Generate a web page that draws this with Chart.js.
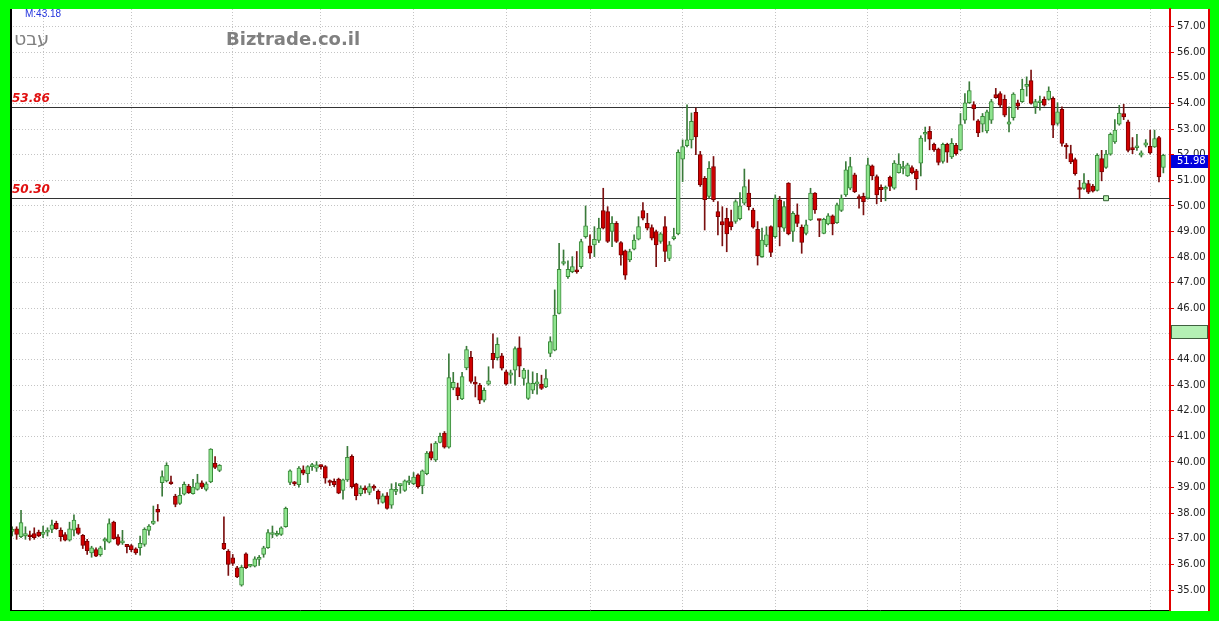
<!DOCTYPE html>
<html>
<head>
<meta charset="utf-8">
<script src="https://cdn.jsdelivr.net/npm/chart.js@4"></script>
<style>
  html, body { margin: 0; padding: 0; background: #00ff00; }
  #wrap { width: 1219px; height: 621px; }
</style>
</head>
<body>
<div id="wrap"><canvas id="chart" width="1219" height="621"></canvas></div>
<script>
// daily candles
const opens = [
  37.29,37.39,37.08,37.11,37.09,37.20,37.26,37.17,37.26,37.37,
  37.60,37.34,37.17,36.95,37.34,37.43,37.14,36.91,36.45,36.58,
  36.38,36.91,36.87,37.65,37.08,36.84,36.78,36.74,36.61,36.65,
  36.78,37.33,37.60,38.15,39.19,39.26,39.23,38.67,38.38,38.74,
  39.06,38.76,38.93,39.19,38.93,39.22,39.95,39.67,36.82,36.52,
  36.26,35.87,35.19,36.41,35.93,35.93,36.20,36.39,36.65,37.17,
  37.14,37.17,37.47,39.20,39.17,39.11,39.69,39.54,39.82,39.76,
  39.84,39.82,39.22,39.24,39.33,38.89,39.30,40.22,39.15,38.76,
  38.95,38.81,39.04,38.85,38.42,38.68,38.31,38.85,39.08,38.89,
  39.20,39.15,39.50,39.07,39.54,40.41,40.08,40.76,41.13,40.58,
  42.89,42.91,42.46,43.67,44.09,43.06,43.00,42.41,43.04,44.24,
  44.07,44.15,43.52,43.39,43.59,44.46,43.26,42.48,42.80,43.04,
  43.04,42.93,44.24,44.37,45.80,47.75,47.24,47.43,47.50,47.63,
  48.80,48.44,48.48,48.65,49.82,49.78,49.00,49.32,48.57,48.25,
  47.89,48.31,48.70,49.82,49.32,49.15,49.00,48.61,49.19,47.95,
  48.72,48.91,51.83,52.35,52.58,53.65,52.00,51.08,50.37,51.54,
  49.78,49.39,49.52,49.39,49.39,49.50,50.11,50.50,49.84,49.09,
  48.02,48.48,49.19,48.80,50.24,49.13,50.89,49.00,49.65,49.17,
  48.93,49.45,50.50,49.45,48.93,49.30,49.61,49.35,49.82,50.43,
  50.69,51.21,50.30,50.37,50.30,51.57,51.15,50.73,50.65,51.12,
  50.69,51.30,51.46,51.17,51.50,51.37,51.67,52.80,52.91,52.41,
  52.22,51.74,52.41,51.91,52.37,52.20,53.35,54.03,53.96,53.32,
  53.19,52.93,53.35,54.35,54.39,54.16,53.19,53.45,54.03,54.07,
  54.67,54.89,53.87,54.03,54.16,54.16,54.20,53.22,53.77,52.37,
  52.04,51.81,50.66,50.68,50.87,50.77,50.61,51.85,51.50,52.02,
  52.50,53.19,53.61,53.28,52.28,52.27,51.98,52.37,52.33,52.30,
  52.67,51.50
];
const highs = [
  37.47,37.47,38.11,37.47,37.30,37.43,37.34,37.50,37.43,37.73,
  37.69,37.43,37.24,37.65,37.94,37.56,37.17,36.98,36.71,36.65,
  36.71,37.04,37.78,37.69,37.17,37.33,36.78,36.78,36.65,37.11,
  37.43,37.56,38.28,38.34,39.65,39.97,39.45,38.74,39.00,39.22,
  39.13,39.32,39.52,39.26,39.22,40.52,40.21,39.90,37.86,36.58,
  36.39,35.93,35.96,36.45,36.00,36.30,36.35,36.71,37.36,37.50,
  37.30,37.47,38.24,39.69,39.24,39.82,39.85,39.86,39.95,40.02,
  39.89,39.86,39.30,39.34,39.37,39.33,40.61,40.28,39.17,39.07,
  39.07,39.15,39.11,38.91,38.76,38.81,39.15,39.20,39.15,39.30,
  39.45,39.59,39.54,39.69,40.41,40.71,40.80,41.13,41.19,44.22,
  43.50,43.08,43.50,44.52,44.32,43.33,43.07,42.90,43.72,45.00,
  44.85,44.24,43.59,43.59,44.50,44.89,43.66,43.59,43.52,43.46,
  43.39,43.61,44.89,46.72,48.54,48.28,47.86,48.02,48.22,48.70,
  50.00,48.87,49.19,49.52,50.69,49.97,49.58,49.39,48.61,48.28,
  48.31,48.87,49.58,50.13,49.71,49.26,49.06,48.96,49.58,48.61,
  49.13,52.19,52.58,53.95,53.63,53.82,52.13,51.15,51.73,51.93,
  50.17,49.97,49.91,49.84,50.24,50.52,51.44,51.02,49.91,49.39,
  49.13,49.19,49.22,50.43,50.37,50.17,50.91,49.78,50.08,49.26,
  49.45,50.69,50.52,49.48,49.52,49.70,49.65,50.11,50.43,51.73,
  51.90,51.28,50.43,50.50,51.87,51.60,51.21,50.82,50.78,51.17,
  51.77,52.04,51.74,51.67,51.57,51.43,52.74,53.08,53.10,52.45,
  52.26,52.45,52.45,52.63,52.44,53.61,54.39,54.85,54.07,53.37,
  53.61,53.74,54.16,54.59,54.46,54.33,53.87,54.42,54.13,54.95,
  55.04,55.30,54.16,54.29,54.26,54.65,54.26,54.03,53.87,52.44,
  52.37,51.87,51.00,51.26,51.00,50.84,52.04,52.17,52.17,52.85,
  53.37,53.93,53.97,53.35,52.67,52.80,52.15,52.59,52.96,52.96,
  52.72,52.02
];
const lows = [
  37.11,36.98,37.04,36.98,36.95,36.98,37.08,37.04,37.11,37.24,
  37.37,36.91,36.92,36.91,37.11,37.17,36.62,36.39,36.28,36.30,
  36.32,36.58,36.84,36.98,36.74,36.78,36.45,36.50,36.39,36.36,
  36.71,37.14,37.56,37.69,38.67,39.22,39.12,38.25,38.34,38.71,
  38.77,38.74,38.90,38.96,38.87,39.19,39.74,39.62,36.58,35.57,
  35.96,35.48,35.15,35.83,35.90,35.90,35.96,36.28,36.62,37.04,
  37.10,37.13,37.45,39.11,39.08,39.02,39.50,39.20,39.67,39.63,
  39.72,39.17,39.08,39.04,38.76,38.55,39.24,38.98,38.52,38.68,
  38.78,38.72,38.89,38.36,38.39,38.16,38.19,38.72,38.78,38.85,
  39.11,39.11,38.98,38.76,39.50,40.08,40.02,40.74,40.54,40.54,
  42.82,42.43,42.43,43.60,43.08,42.54,42.28,42.35,43.00,43.66,
  43.98,43.59,43.00,43.07,43.00,43.33,43.00,42.44,42.67,42.65,
  42.83,42.90,44.11,44.34,45.78,47.69,47.17,47.39,47.37,47.56,
  48.74,47.95,48.02,48.57,49.10,48.57,48.41,48.57,47.69,47.13,
  47.82,48.28,48.67,49.45,49.06,48.67,47.63,48.54,47.82,47.86,
  48.67,48.87,50.95,52.30,52.26,52.00,50.76,49.06,50.30,50.17,
  48.87,48.44,48.21,49.06,49.32,49.45,50.04,49.84,49.13,47.69,
  47.99,48.41,48.02,48.74,48.44,49.00,48.87,48.61,49.19,48.15,
  48.87,49.43,49.71,48.80,48.91,49.26,48.87,49.32,49.78,50.37,
  50.63,50.52,49.91,49.65,50.26,51.02,50.08,50.17,50.20,50.60,
  50.65,51.28,51.25,51.15,51.25,50.63,51.17,52.52,52.19,52.13,
  51.60,51.67,51.70,51.85,51.98,52.15,53.22,54.00,53.35,52.70,
  52.89,52.85,53.22,54.20,53.87,53.48,52.89,53.35,53.77,54.04,
  54.29,53.97,53.61,53.74,53.90,54.13,52.67,53.15,52.33,51.85,
  51.65,51.20,50.28,50.64,50.48,50.54,50.58,50.98,51.46,51.98,
  52.44,53.15,53.37,52.11,52.04,52.17,51.91,52.30,52.02,52.28,
  50.94,51.29
];
const closes = [
  37.37,37.17,37.63,37.20,37.08,37.04,37.11,37.26,37.34,37.55,
  37.40,37.08,36.95,37.39,37.73,37.21,36.74,36.54,36.65,36.32,
  36.65,36.96,37.59,37.01,36.78,36.91,36.69,36.58,36.45,36.82,
  37.37,37.50,37.69,38.04,39.43,39.87,39.15,38.34,38.70,39.13,
  38.80,39.02,39.19,39.02,39.15,40.50,39.79,39.87,36.61,36.00,
  36.04,35.51,35.89,35.87,35.95,36.22,36.28,36.65,37.24,37.20,
  37.17,37.43,38.19,39.65,39.15,39.76,39.56,39.82,39.85,39.89,
  39.82,39.37,39.20,39.11,38.78,39.30,40.18,39.04,38.68,38.98,
  38.91,39.04,38.98,38.55,38.68,38.19,38.94,38.87,39.08,39.26,
  39.22,39.41,39.04,39.65,40.35,40.15,40.74,41.00,40.58,43.30,
  43.11,42.59,43.34,44.39,43.15,43.04,42.41,42.80,43.17,44.00,
  44.59,43.66,43.04,43.48,44.43,43.74,43.59,43.09,43.07,43.13,
  42.87,43.26,44.70,45.74,47.52,47.78,47.52,47.63,47.43,48.61,
  49.22,48.15,48.70,49.13,49.13,48.61,49.32,48.61,48.08,47.30,
  48.22,48.67,49.19,49.52,49.13,48.74,48.48,48.91,48.22,48.48,
  48.74,52.09,52.32,52.58,53.30,52.69,50.82,50.24,51.47,50.24,
  49.58,49.26,48.91,49.19,50.17,50.00,50.76,49.97,49.17,48.05,
  48.67,48.87,48.18,50.30,49.17,49.97,48.91,49.71,49.32,48.57,
  49.26,50.50,49.84,49.43,49.48,49.61,49.30,50.04,50.30,51.41,
  51.54,50.56,50.29,50.17,51.60,51.17,50.43,50.63,50.73,50.76,
  51.67,51.63,51.48,51.60,51.30,51.06,52.65,52.84,52.61,52.19,
  51.70,52.41,52.10,52.44,52.04,53.18,54.03,54.50,53.80,52.85,
  53.50,53.67,54.07,54.23,53.93,53.54,53.28,54.37,53.90,54.55,
  54.69,54.00,54.07,54.05,53.93,54.48,53.15,53.67,52.44,52.30,
  51.72,51.26,50.64,50.90,50.54,50.58,51.98,51.33,52.02,52.80,
  52.96,53.63,53.48,52.17,52.20,52.29,52.07,52.46,52.07,52.63,
  51.13,51.98
];

const yTicks = [35,36,37,38,39,40,41,42,43,44,45,46,47,48,49,50,51,52,53,54,55,56,57];
const monthStarts = [7, 27, 50, 70, 91, 112, 131, 152, 173, 194, 215, 237, 258];
const levels = [53.86, 50.30];
const lowMarker = { idx: 248, value: 50.30 };
const avgBand = [44.85, 45.35];
const lastPrice = 51.98;
const avgText = 'M:43.18';
const symbolText = 'טבע';
const siteText = 'Biztrade.co.il';

// one extra empty slot at the right edge
const labels = opens.map((_, i) => String(i)).concat(['']);
const isUp = opens.map((o, i) => closes[i] >= o);

const frame = {
  id: 'frame',
  beforeDraw(chart) {
    const c = chart.ctx;
    c.save();
    c.fillStyle = '#00ff00';
    c.fillRect(0, 0, chart.width, chart.height);
    c.fillStyle = '#ffffff';
    c.fillRect(10, 9, 1199, 602);
    c.restore();
  },
  beforeDatasetsDraw(chart) {
    const { ctx: c, chartArea: a, scales: { y } } = chart;
    c.save();
    // support / resistance
    c.strokeStyle = '#333';
    c.lineWidth = 1;
    levels.forEach(v => {
      const py = Math.round(y.getPixelForValue(v)) + 0.5;
      c.beginPath();
      c.moveTo(a.left, py);
      c.lineTo(a.right, py);
      c.stroke();
    });
    c.fillStyle = '#e01010';
    c.font = 'italic bold 12px "DejaVu Sans"';
    c.textBaseline = 'alphabetic';
    levels.forEach(v => c.fillText(v.toFixed(2), 12, y.getPixelForValue(v) - 5));

    c.fillStyle = '#2233dd';
    c.font = '10px "Liberation Sans"';
    c.fillText(avgText, 25, 17);

    c.fillStyle = '#808080';
    c.font = 'bold 18px "DejaVu Sans"';
    c.fillText(siteText, 226, 45);
    // the symbol is shown in visual (left-to-right) letter order
    c.font = '19px "DejaVu Sans"';
    c.fillText('\u202D' + symbolText + '\u202C', 14, 45);
    c.restore();
  },
  afterDraw(chart) {
    const { ctx: c, chartArea: a, scales: { y } } = chart;
    c.save();
    // borders
    c.fillStyle = '#000';
    c.fillRect(10, a.top, 2, a.bottom - a.top + 1);
    c.fillStyle = '#e00000';
    c.fillRect(1208, a.top, 2, a.bottom - a.top + 1);

    // average band on the axis
    const b1 = Math.round(y.getPixelForValue(avgBand[1]));
    const b2 = Math.round(y.getPixelForValue(avgBand[0]));
    c.fillStyle = '#b4f0b4';
    c.fillRect(a.right + 1, b1, 1208 - a.right - 1, b2 - b1);
    c.strokeStyle = '#406040';
    c.lineWidth = 1;
    c.strokeRect(a.right + 1.5, b1 + 0.5, 1208 - a.right - 2, b2 - b1);

    // last price tag
    const ty = Math.round(y.getPixelForValue(lastPrice));
    c.fillStyle = '#0000dd';
    c.fillRect(a.right + 1, ty, 37, 13);
    c.fillStyle = '#ffffff';
    c.font = '10px "DejaVu Sans"';
    c.textBaseline = 'middle';
    c.fillText(lastPrice.toFixed(2), a.right + 7, ty + 6.5);
    c.restore();
  }
};

new Chart(document.getElementById('chart'), {
  data: {
    labels: labels,
    datasets: [
      {
        type: 'line',
        data: [{ x: String(lowMarker.idx), y: lowMarker.value }],
        showLine: false,
        pointStyle: 'rect',
        pointRadius: 3.5,
        backgroundColor: '#b8f0b0',
        borderColor: '#2f5f2f',
        borderWidth: 1,
        order: 0
      },
      {
        type: 'bar',
        data: opens.map((o, i) => [o, closes[i]]),
        backgroundColor: isUp.map(u => (u ? '#8fe48f' : '#d00000')),
        borderColor: isUp.map(u => (u ? '#3a8a3a' : '#7a0000')),
        borderWidth: 1,
        borderSkipped: false,
        barThickness: 4,
        minBarLength: 2,
        grouped: false,
        order: 1
      },
      {
        type: 'bar',
        data: lows.map((l, i) => [l, highs[i]]),
        backgroundColor: isUp.map(u => (u ? '#3a7a3a' : '#7a1010')),
        barThickness: 1,
        grouped: false,
        order: 2
      }
    ]
  },
  options: {
    responsive: false,
    animation: false,
    devicePixelRatio: 1,
    layout: { padding: { left: 10, top: 9, right: 10, bottom: 11 } },
    plugins: { legend: { display: false }, tooltip: { enabled: false } },
    scales: {
      x: {
        type: 'category',
        offset: true,
        ticks: { display: false, autoSkip: false },
        grid: {
          offset: false,
          drawTicks: false,
          color: ctx => (monthStarts.includes(ctx.index) ? '#c4c4c4' : 'rgba(0,0,0,0)')
        },
        border: { color: '#000', width: 1, dash: [1, 2] },
        afterFit: axis => { axis.height = 0; }
      },
      y: {
        position: 'right',
        min: 34.22,
        max: 57.69,
        afterBuildTicks: axis => { axis.ticks = yTicks.map(v => ({ value: v })); },
        ticks: {
          padding: 3,
          color: '#222',
          font: { family: 'DejaVu Sans', size: 10 },
          callback: v => Number(v).toFixed(2)
        },
        grid: {
          color: '#c4c4c4',
          drawTicks: true,
          tickLength: 4,
          tickColor: '#e00000',
          tickBorderDash: []
        },
        border: { color: '#e00000', width: 2, dash: [1, 2] },
        afterFit: axis => { axis.width = 39; }
      }
    }
  },
  plugins: [frame]
});
</script>
</body>
</html>
